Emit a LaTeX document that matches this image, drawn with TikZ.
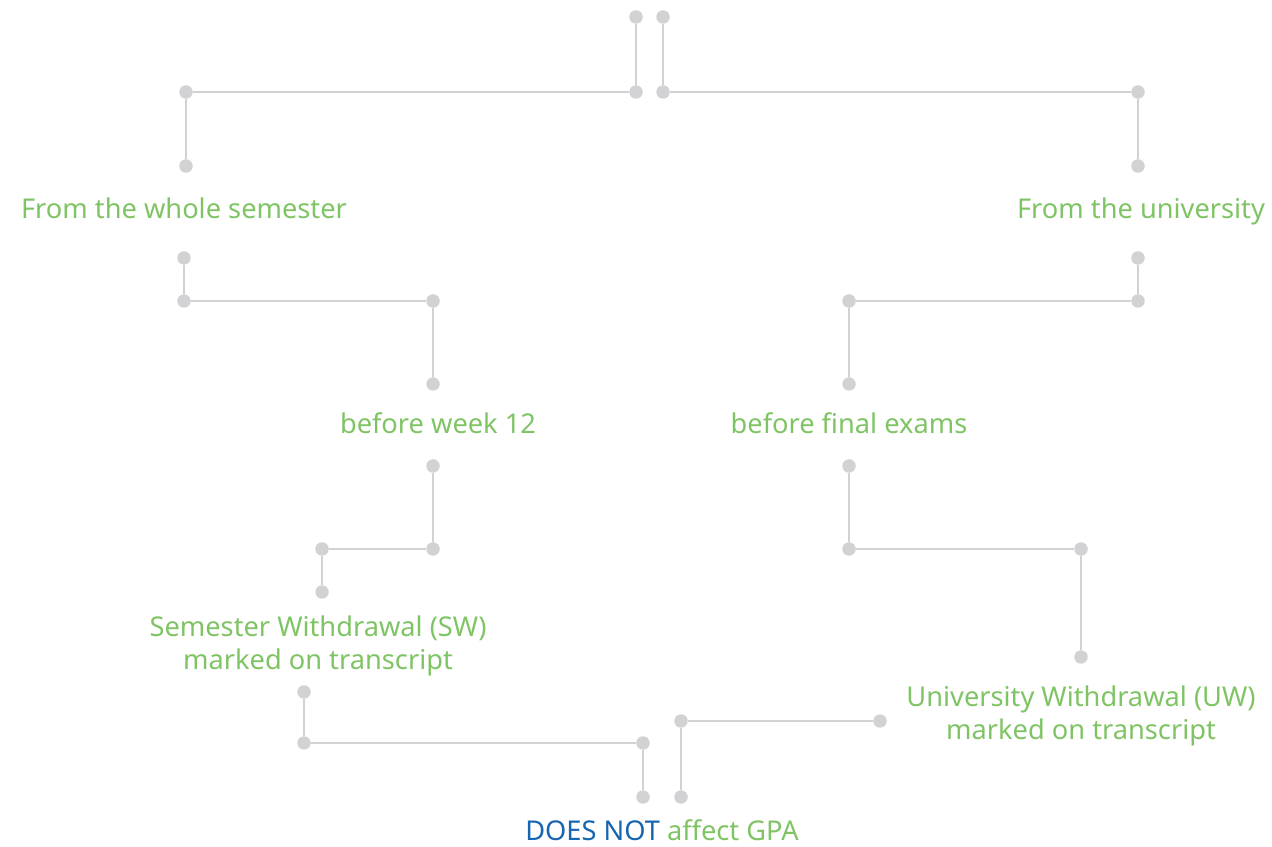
\documentclass[tikz,border=0pt]{standalone}
\usepackage{fontspec}
\setmainfont{Noto Sans}
\usetikzlibrary{positioning}
\definecolor{lgreen}{HTML}{7FC464}
\definecolor{dblue}{HTML}{1565B0}
\definecolor{lgray}{HTML}{D2D2D4}
\tikzstyle{aS}=[every edge/.style={draw=lgray,line width=1.1pt}]
\tikzstyle{Adot}=[circle,fill=lgray,minimum size=0.27cm,inner sep=0]
\tikzstyle{Alab}=[text=lgreen,font=\fontsize{15.5}{18.5}\selectfont,align=center]
\newcommand{\pin}[2]{\node[Adot] (#1) at (#2) {};}
\newcommand{\elbow}[3]{\path (#1) edge (#2) (#2) edge (#3);}

\begin{document}
\begin{tikzpicture}[aS, x=0.02cm, y=-0.02cm]
  \useasboundingbox (0,0) rectangle (1272,847);

  % top split
  \pin{tl}{636,17} \pin{tlb}{636,92} \pin{sa}{186,92} \pin{sb}{186,166}
  \pin{tr}{663,17} \pin{trb}{663,92} \pin{ua}{1138,92} \pin{ub}{1138,166}
  \path (tl) edge (tlb);
  \elbow{tlb}{sa}{sb}
  \path (tr) edge (trb);
  \elbow{trb}{ua}{ub}

  \node[Alab] (sem) at (184,208) {From the whole semester};
  \node[Alab] (uni) at (1141,211) {From the university};

  % second level
  \pin{sc}{184,258} \pin{sd}{184,301} \pin{wa}{433,301} \pin{wb}{433,384}
  \path (sc) edge (sd);
  \elbow{sd}{wa}{wb}
  \pin{uc}{1138,258} \pin{ud}{1138,301} \pin{fa}{849,301} \pin{fb}{849,384}
  \path (uc) edge (ud);
  \elbow{ud}{fa}{fb}

  \node[Alab] (wk) at (438,423) {before week 12};
  \node[Alab] (fin) at (849,423) {before final exams};

  % third level
  \pin{wc}{433,466} \pin{wd}{433,549} \pin{swa}{322,549} \pin{swb}{322,592}
  \path (wc) edge (wd);
  \elbow{wd}{swa}{swb}
  \pin{fc}{849,466} \pin{fd}{849,549} \pin{uwa}{1081,549} \pin{uwb}{1081,657}
  \path (fc) edge (fd);
  \elbow{fd}{uwa}{uwb}

  \node[Alab] (sw) at (318,646) {Semester Withdrawal (SW)\\marked on transcript};
  \node[Alab] (uw) at (1081,716) {University Withdrawal (UW)\\marked on transcript};

  % bottom join
  \pin{swc}{304,692} \pin{swd}{304,743} \pin{ga}{643,743} \pin{gb}{643,797}
  \path (swc) edge (swd);
  \elbow{swd}{ga}{gb}
  \pin{uwc}{880,721} \pin{gc}{681,721} \pin{gd}{681,797}
  \elbow{uwc}{gc}{gd}

  \node[Alab] (gpa) at (662,830) {\textcolor{dblue}{DOES NOT} affect GPA};
\end{tikzpicture}
\end{document}
